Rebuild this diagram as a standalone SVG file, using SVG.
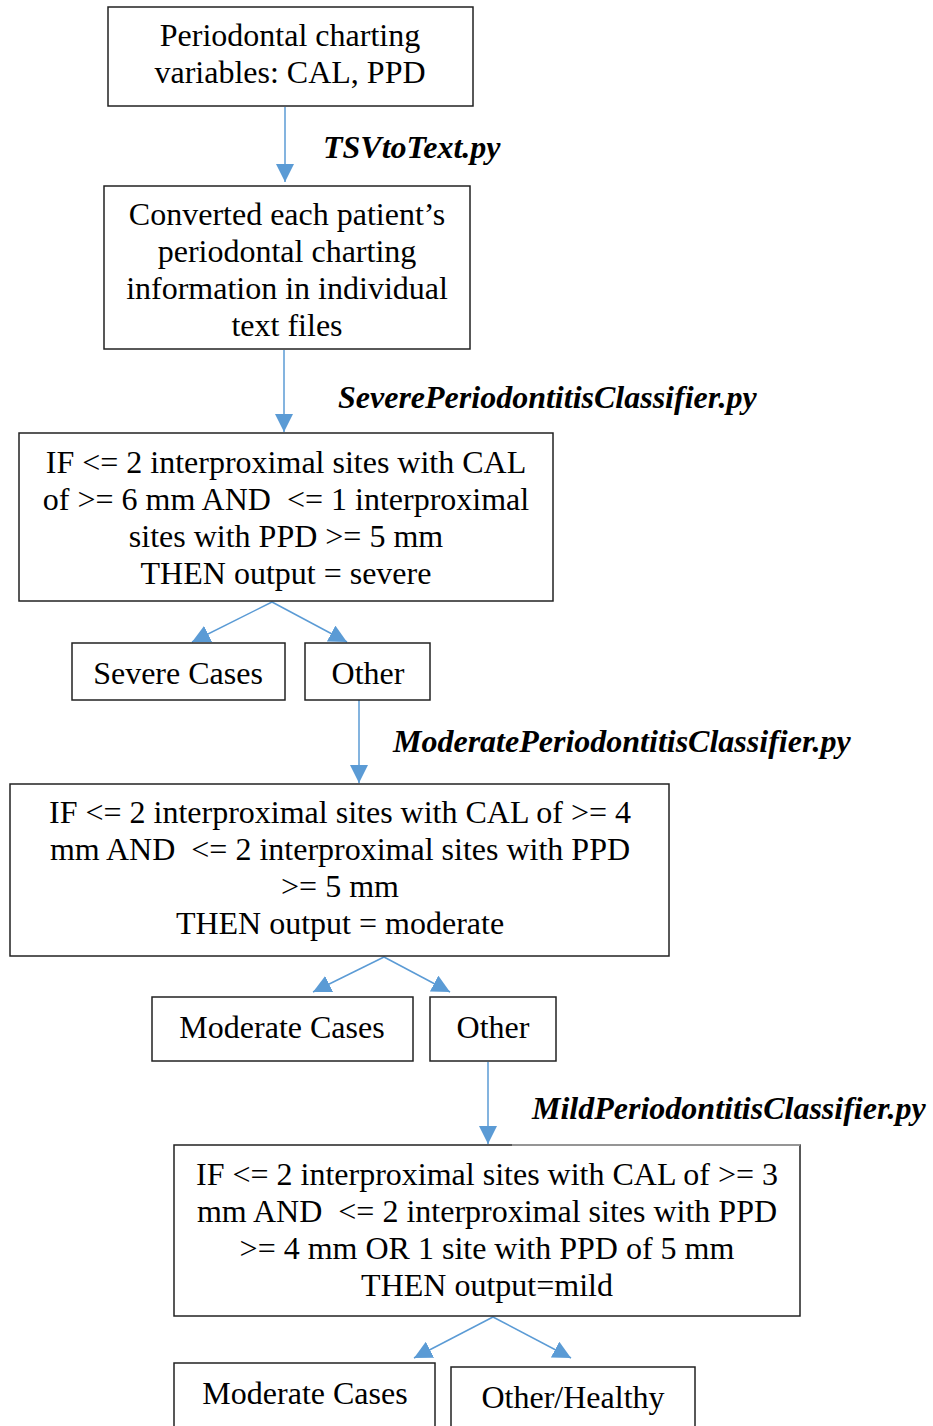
<svg xmlns="http://www.w3.org/2000/svg" width="933" height="1426" viewBox="0 0 933 1426">
<style>
.box{fill:#fff;stroke:#222;stroke-width:1.5}
.t{font-family:"Liberation Serif","Times New Roman",serif;font-size:32px;fill:#000;text-anchor:middle;white-space:pre}
.lbl{font-family:"Liberation Serif","Times New Roman",serif;font-size:32px;font-weight:bold;font-style:italic;fill:#000}
.c{stroke:#5B9BD5;stroke-width:1.5;fill:none;marker-end:url(#ah)}
</style>
<defs>
<marker id="ah" markerUnits="userSpaceOnUse" markerWidth="18" markerHeight="18" viewBox="0 0 16 16" refX="16" refY="8" orient="auto">
<path d="M0,0 L16,8 L0,16 Z" fill="#5B9BD5"/>
</marker>
</defs>
<rect width="933" height="1426" fill="#fff"/>
<g id="connectors">
<line class="c" x1="285" y1="107" x2="285" y2="182"/>
<line class="c" x1="284" y1="350" x2="284" y2="432"/>
<line class="c" x1="272" y1="602" x2="192" y2="642"/>
<line class="c" x1="272" y1="602" x2="347" y2="642"/>
<line class="c" x1="359" y1="700" x2="359" y2="783"/>
<line class="c" x1="384" y1="957" x2="313" y2="992"/>
<line class="c" x1="384" y1="957" x2="450" y2="992"/>
<line class="c" x1="488" y1="1062" x2="488" y2="1144"/>
<line class="c" x1="493" y1="1317" x2="414" y2="1358"/>
<line class="c" x1="493" y1="1317" x2="571" y2="1358"/>
</g>
<g id="labels">
<text class="lbl" x="323" y="158">TSVtoText.py</text>
<text class="lbl" x="338" y="408">SeverePeriodontitisClassifier.py</text>
<text class="lbl" x="393" y="752">ModeratePeriodontitisClassifier.py</text>
<text class="lbl" x="532" y="1119">MildPeriodontitisClassifier.py</text>
</g>
<g id="n1">
<rect class="box" x="108" y="7" width="365" height="99"/>
<text class="t" x="290" y="46">Periodontal charting</text>
<text class="t" x="290" y="83">variables: CAL, PPD</text>
</g>
<g id="n2">
<rect class="box" x="104" y="186" width="366" height="163"/>
<text class="t" x="287" y="225">Converted each patient’s</text>
<text class="t" x="287" y="262">periodontal charting</text>
<text class="t" x="287" y="299">information in individual</text>
<text class="t" x="287" y="336">text files</text>
</g>
<g id="n3">
<rect class="box" x="19" y="433" width="534" height="168"/>
<text class="t" x="286" y="473">IF &lt;= 2 interproximal sites with CAL</text>
<text class="t" x="286" y="510">of &gt;= 6 mm AND  &lt;= 1 interproximal</text>
<text class="t" x="286" y="547">sites with PPD &gt;= 5 mm</text>
<text class="t" x="286" y="584">THEN output = severe</text>
</g>
<g id="n4">
<rect class="box" x="72" y="643" width="213" height="57"/>
<text class="t" x="178" y="684">Severe Cases</text>
</g>
<g id="n5">
<rect class="box" x="305" y="643" width="125" height="57"/>
<text class="t" x="368" y="684">Other</text>
</g>
<g id="n6">
<rect class="box" x="10" y="784" width="659" height="172"/>
<text class="t" x="340" y="823">IF &lt;= 2 interproximal sites with CAL of &gt;= 4</text>
<text class="t" x="340" y="860">mm AND  &lt;= 2 interproximal sites with PPD</text>
<text class="t" x="340" y="897">&gt;= 5 mm</text>
<text class="t" x="340" y="934">THEN output = moderate</text>
</g>
<g id="n7">
<rect class="box" x="152" y="997" width="261" height="64"/>
<text class="t" x="282" y="1038">Moderate Cases</text>
</g>
<g id="n8">
<rect class="box" x="430" y="997" width="126" height="64"/>
<text class="t" x="493" y="1038">Other</text>
</g>
<g id="n9">
<rect class="box" x="174" y="1145" width="626" height="171"/>
<line x1="512" y1="1145" x2="800" y2="1145" stroke="#aaa" stroke-width="1.6"/>
<text class="t" x="487" y="1185">IF &lt;= 2 interproximal sites with CAL of &gt;= 3</text>
<text class="t" x="487" y="1222">mm AND  &lt;= 2 interproximal sites with PPD</text>
<text class="t" x="487" y="1259">&gt;= 4 mm OR 1 site with PPD of 5 mm</text>
<text class="t" x="487" y="1296">THEN output=mild</text>
</g>
<g id="n10">
<rect class="box" x="174" y="1363" width="261" height="80"/>
<text class="t" x="305" y="1404">Moderate Cases</text>
</g>
<g id="n11">
<rect class="box" x="451" y="1367" width="244" height="80"/>
<text class="t" x="573" y="1408">Other/Healthy</text>
</g>
</svg>
